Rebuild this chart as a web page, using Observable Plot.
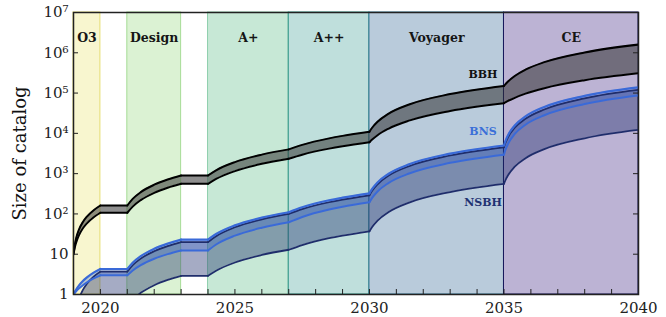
<!DOCTYPE html>
<html><head><meta charset="utf-8">
<script src="https://cdn.jsdelivr.net/npm/d3@7"></script>
<script src="https://cdn.jsdelivr.net/npm/@observablehq/plot@0.6"></script>
<style>body{margin:0;background:#fff} svg{display:block}</style>
</head><body><div id="chart"></div>
<script>
// Observing runs
const runNames = ["O3", "Design", "A+", "A++", "Voyager", "CE"];
const runStart = [2019, 2021, 2024, 2027, 2030, 2035];
const runEnd   = [2020, 2023, 2027, 2030, 2035, 2040];

// Cumulative catalog size
const year = [
  2019, 2019.05, 2019.1, 2019.2, 2019.35, 2019.5, 2019.75, 2020,
  2020, 2021,
  2021, 2021.2, 2021.5, 2022, 2022.5, 2023,
  2023, 2024,
  2024, 2024.3, 2025, 2026, 2027,
  2027, 2027.5, 2028.5, 2029, 2030,
  2030, 2030.1, 2030.3, 2030.7, 2031.5, 2033, 2035,
  2035, 2035.05, 2035.15, 2035.4, 2035.8, 2036.5, 2038, 2040
];
const segment = [
  "O3","O3","O3","O3","O3","O3","O3","O3",
  "gap1","gap1",
  "Design","Design","Design","Design","Design","Design",
  "gap2","gap2",
  "A+","A+","A+","A+","A+",
  "A++","A++","A++","A++","A++",
  "Voyager","Voyager","Voyager","Voyager","Voyager","Voyager","Voyager",
  "CE","CE","CE","CE","CE","CE","CE","CE"
];
const bbhUpper = [
  10, 17.6, 25.2, 40.4, 63.2, 86, 124, 162,
  162, 162,
  162, 236, 347, 531, 716, 900,
  900, 900,
  900, 1210, 1933, 2966, 4000,
  4000, 5167, 7500, 8667, 11000,
  11000, 13780, 19340, 30460, 52700, 94400, 150000,
  150000, 164500, 193500, 266000, 382000, 585000, 1020000, 1600000
];
const bbhLower = [
  10, 14.9, 19.7, 29.4, 44, 58.5, 82.8, 107,
  107, 107,
  107, 152, 220, 334, 447, 560,
  560, 560,
  560, 739, 1157, 1754, 2350,
  2350, 2958, 4175, 4784, 6000,
  6000, 7000, 9000, 13000, 21000, 36000, 56000,
  56000, 58540, 63620, 76320, 96640, 132200, 208400, 310000
];
const bnsUpper = [
  1, 1.165, 1.33, 1.66, 2.16, 2.65, 3.48, 4.3,
  4.3, 4.3,
  4.3, 6.17, 8.98, 13.65, 18.3, 23,
  23, 23,
  23, 31.7, 52, 81, 110,
  110, 146, 218, 253, 325,
  325, 418, 606, 980, 1728, 3130, 5000,
  5000, 6340, 9020, 15720, 26440, 45200, 85400, 139000
];
const bnsLower = [
  1, 1.1, 1.2, 1.4, 1.7, 2.0, 2.5, 3.0,
  3, 3,
  3, 3.94, 5.35, 7.7, 10.05, 12.4,
  12.4, 12.4,
  12.4, 17.4, 28.9, 45.5, 62,
  62, 84.2, 128.5, 150.7, 195,
  195, 250, 361, 582, 1024, 1854, 2960,
  2960, 3800, 5480, 9680, 16400, 28160, 53360, 87000
];
const nsbhUpper = [
  0.05, 0.185, 0.37, 0.74, 1.3, 1.85, 2.78, 3.7,
  3.7, 3.7,
  3.7, 5.33, 7.78, 11.85, 15.9, 20,
  20, 20,
  20, 28, 46.7, 73.4, 100,
  100, 131.7, 195, 226.7, 290,
  290, 374, 543, 879, 1553, 2816, 4500,
  4500, 5655, 7965, 13740, 22980, 39150, 73800, 120000
];
const nsbhLower = [
  0.02, 0.025, 0.05, 0.1, 0.175, 0.25, 0.375, 0.5,
  0.5, 0.5,
  0.5, 0.74, 1.1, 1.7, 2.3, 2.9,
  2.9, 2.9,
  2.9, 3.9, 6.23, 9.57, 12.9,
  12.9, 16.9, 25, 29, 37,
  37, 47.5, 68.4, 110, 194, 350, 560,
  560, 676, 909, 1490, 2420, 4050, 7540, 12200
];

// Series labels
const seriesNames = ["BBH", "BNS", "NSBH"];
const seriesLabelYear = [2034.22, 2034.22, 2034.22];
const seriesLabelValue = [2.9e5, 1.1e4, 192];

// Ticks
const xTicks = [2020, 2025, 2030, 2035, 2040];
const xMinorTicks = d3.range(2019, 2041);
const yTicks = [1, 10, 1e2, 1e3, 1e4, 1e5, 1e6, 1e7];
const yTickLabels = ["1", "10", "10²", "10³", "10⁴", "10⁵", "10⁶", "10⁷"];

// Styles
const runFill = ["#f8f6cf", "#dbf2d3", "#c7e8d6", "#bfdfdc", "#b9cbdb", "#bcb3d4"];
const runStroke = ["#e6de72", "#a6dc96", "#8fd0ae", "#2a9384", "#2f7290", "#15155a"];
const seriesColor = ["#111111", "#3a6fd8", "#1f3272"];

const W = 666, H = 317, mL = 73, mR = 28, mT = 12, mB = 23;
const plotW = W - mL - mR, plotH = H - mT - mB;

const runs = runNames.map((name, i) => ({name, start: runStart[i], end: runEnd[i], fill: runFill[i], stroke: runStroke[i]}));
const rows = year.map((y, i) => ({
  year: y, seg: segment[i],
  bbhHi: bbhUpper[i], bbhLo: bbhLower[i],
  bnsHi: bnsUpper[i], bnsLo: bnsLower[i],
  nsHi: nsbhUpper[i], nsLo: nsbhLower[i]
}));
const labels = seriesNames.map((t, i) => ({t, x: seriesLabelYear[i], y: seriesLabelValue[i], c: seriesColor[i]}));

const common = {x: "year", z: "seg", curve: "monotone-x", clip: true};

const chart = Plot.plot({
  width: W, height: H,
  marginLeft: mL, marginRight: mR, marginTop: mT, marginBottom: mB,
  style: {fontFamily: "'DejaVu Serif', serif", fontSize: "15px", background: "#fff", color: "#222"},
  x: {domain: [2019, 2040]},
  y: {type: "log", domain: [1, 1e7]},
  color: {type: "identity"},
  marks: [
    Plot.rect(runs, {x1: "start", x2: "end", fill: "fill", stroke: "stroke", strokeWidth: 1}),
    Plot.text(runs, {x: d => (d.start + d.end) / 2, text: "name", frameAnchor: "top", dy: 21,
      fontWeight: "bold", fontSize: 12.5, fill: "#151515"}),
    // BBH
    Plot.areaY(rows, {...common, y1: "bbhLo", y2: "bbhHi", fill: "#333", fillOpacity: 0.55}),
    Plot.lineY(rows, {...common, y: "bbhHi", stroke: "#000", strokeWidth: 2}),
    Plot.lineY(rows, {...common, y: "bbhLo", stroke: "#000", strokeWidth: 2}),
    // NSBH & BNS
    Plot.areaY(rows, {...common, y1: "nsLo", y2: "nsHi", fill: "#1f2d6b", fillOpacity: 0.4}),
    Plot.areaY(rows, {...common, y1: "bnsLo", y2: "bnsHi", fill: "#2f5fd0", fillOpacity: 0.3}),
    Plot.lineY(rows, {...common, y: "nsHi", stroke: "#1f2d6b", strokeWidth: 1.7}),
    Plot.lineY(rows, {...common, y: "nsLo", stroke: "#1f2d6b", strokeWidth: 1.8}),
    Plot.lineY(rows, {...common, y: "bnsHi", stroke: "#3a6ad8", strokeWidth: 2.2}),
    Plot.lineY(rows, {...common, y: "bnsLo", stroke: "#3a6ad8", strokeWidth: 2}),
    // series labels
    Plot.text(labels, {x: "x", y: "y", text: "t", fill: "c", fontWeight: "bold", fontSize: 11}),
    // inward ticks
    Plot.ruleY(yTicks, {y: d => d, insetRight: plotW - 5, stroke: "#222", strokeWidth: 1}),
    Plot.ruleY(yTicks, {y: d => d, insetLeft: plotW - 5, stroke: "#222", strokeWidth: 1}),
    Plot.ruleX(xMinorTicks, {x: d => d, insetTop: plotH - 5, stroke: "#222", strokeWidth: 1}),
    Plot.frame({stroke: "#222", strokeWidth: 1.5}),
    Plot.axisX({ticks: xTicks, tickFormat: d => String(d), tickSize: 0, tickPadding: 8, label: null, fontSize: 15}),
    Plot.axisY({ticks: yTicks, tickFormat: d => yTickLabels[yTicks.indexOf(d)], tickSize: 0, tickPadding: 5, label: null, fontSize: 15}),
    Plot.text(["Size of catalog"], {text: d => d, frameAnchor: "left", textAnchor: "middle", dx: -53, rotate: -90, fontSize: 18, fill: "#111"})
  ]
});
document.getElementById("chart").appendChild(chart);
</script>
</body></html>
